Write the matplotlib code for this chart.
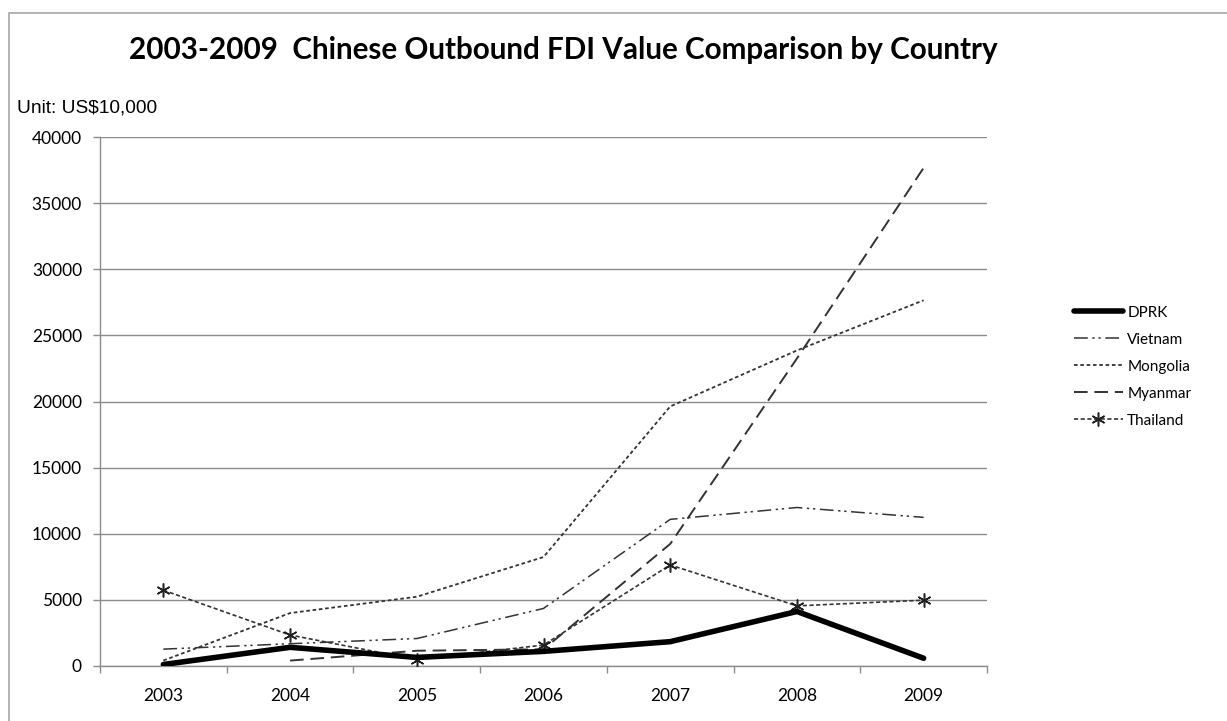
import matplotlib
matplotlib.use("Agg")
import matplotlib.pyplot as plt
from matplotlib.patches import Rectangle

# Chinese outbound FDI flows, unit: US$10,000
years = ["2003", "2004", "2005", "2006", "2007", "2008", "2009"]
dprk = [112, 1413, 650, 1106, 1840, 4123, 586]
vietnam = [1275, 1685, 2077, 4352, 11088, 11984, 11239]
mongolia = [415, 4002, 5234, 8239, 19627, 23861, 27654]
myanmar = [None, 409, 1154, 1264, 9231, 23253, 37670]
thailand = [5731, 2343, 477, 1584, 7641, 4547, 4977]

yticks = [0, 5000, 10000, 15000, 20000, 25000, 30000, 35000, 40000]

W, H = 1227, 721
fig = plt.figure(figsize=(W / 100, H / 100), dpi=100)

# outer chart frame (runs off the right and bottom edges)
top_y = 1 - 13 / H
fig.patches.append(Rectangle((9 / W, -0.1), 1.2, top_y + 0.1, transform=fig.transFigure,
                             fill=False, edgecolor="#a6a6a6", linewidth=1.2))

ax = fig.add_axes([100 / W, 1 - 666 / H, (987 - 100) / W, (666 - 137) / H])

xs = [i + 0.5 for i in range(len(years))]


def pts(vals):
    px, py = [], []
    for x, v in zip(xs, vals):
        if v is not None:
            px.append(x)
            py.append(v)
    return px, py


ax.plot(*pts(mongolia), color="#333333", lw=1.3, ls=(0, (2, 1.5)), label="Mongolia", zorder=3)
ax.plot(*pts(vietnam), color="#333333", lw=1.1, ls=(0, (9, 3, 1.5, 2.5, 1.5, 3)), label="Vietnam", zorder=3)
ax.plot(*pts(myanmar), color="#333333", lw=1.4, ls=(0, (7, 3.5)), label="Myanmar", zorder=3)
ax.plot(*pts(thailand), color="#333333", lw=1.2, ls=(0, (2.5, 1.5)), marker=(6, 2, 0),
        markersize=10, markeredgewidth=1.1, markeredgecolor="#222222", label="Thailand", zorder=3)
ax.plot(*pts(dprk), color="black", lw=4, solid_capstyle="round", solid_joinstyle="round",
        label="DPRK", zorder=4)

ax.set_xlim(0, len(years))
ax.set_ylim(0, 40000)
ax.set_yticks(yticks)
ax.set_yticklabels([str(v) for v in yticks], fontfamily="Lato", fontsize=12.5)
ax.yaxis.grid(True, color="#8c8c8c", lw=1.0)
ax.set_axisbelow(True)

# category labels sit between the boundary ticks
ax.set_xticks(xs)
ax.set_xticklabels(years, fontfamily="Lato", fontsize=12.5)
ax.set_xticks(range(len(years) + 1), minor=True)
ax.tick_params(axis="x", which="major", length=0, pad=16)
ax.tick_params(axis="x", which="minor", length=5, color="#8c8c8c", width=1.0, direction="out")
ax.tick_params(axis="y", length=5, color="#8c8c8c", width=1.0, pad=8)

for s in ["top", "right"]:
    ax.spines[s].set_visible(False)
for s in ["left", "bottom"]:
    ax.spines[s].set_color("#8c8c8c")
    ax.spines[s].set_linewidth(1.0)

fig.text(563 / W, 1 - 50 / H, "2003-2009  Chinese Outbound FDI Value Comparison by Country",
         ha="center", va="center", fontfamily="Lato", fontweight="bold", fontsize=21.3)
fig.text(17 / W, 1 - 108 / H, "Unit: US$10,000", ha="left", va="center",
         fontfamily="Liberation Sans", fontsize=13.8)

handles, labels = ax.get_legend_handles_labels()
order = ["DPRK", "Vietnam", "Mongolia", "Myanmar", "Thailand"]
hmap = dict(zip(labels, handles))
leg = fig.legend([hmap[k] for k in order], order, loc="upper left",
                 bbox_to_anchor=(1060 / W, 1 - 292 / H), frameon=False,
                 prop={"family": "Lato", "size": 11}, handlelength=3.2,
                 handletextpad=0.3, labelspacing=0.85)

fig.savefig("out.png", dpi=100)
